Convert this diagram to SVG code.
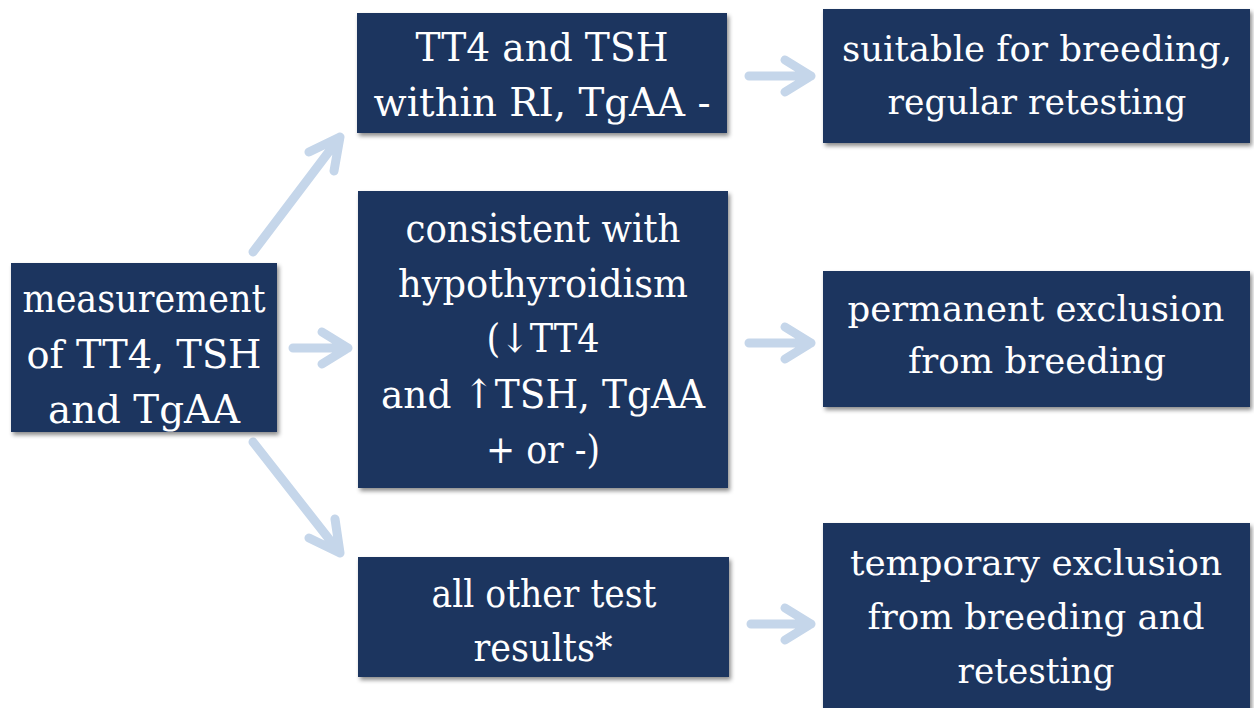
<svg xmlns="http://www.w3.org/2000/svg" width="1254" height="708" viewBox="0 0 1254 708">
  <defs>
    <filter id="shadow" x="-5%" y="-5%" width="112%" height="115%">
      <feDropShadow dx="2" dy="3" stdDeviation="2" flood-color="#000" flood-opacity="0.45"/>
    </filter>
    <style>
      .box { fill: #1b365e; filter: url(#shadow); }
      .label { fill: #ffffff; font-family: "DejaVu Serif", "Liberation Serif", serif; font-size: 40px; text-anchor: middle; }
      .wide { font-size: 36px; }
      .arrow { fill: none; stroke: #c5d6ea; stroke-width: 9; stroke-linecap: round; stroke-linejoin: round; }
    </style>
  </defs>
  <rect width="1254" height="708" fill="#ffffff"/>

  <!-- connectors -->
  <g id="connectors">
    <!-- start to the three outcomes -->
    <path class="arrow" d="M253 252 L340 137 M309 152 L340 137 L334 171"/>
    <path class="arrow" d="M293 348 L348 348 M322 332 L348 348 L322 364"/>
    <path class="arrow" d="M253 442 L340 553 M309 538 L340 553 L335 519"/>
    <!-- outcomes to consequences -->
    <path class="arrow" d="M749 76 L811 76 M785 60 L811 76 L785 92"/>
    <path class="arrow" d="M749 343 L811 343 M785 327 L811 343 L785 359"/>
    <path class="arrow" d="M751 624 L811 624 M785 608 L811 624 L785 640"/>
  </g>

  <g id="measurement">
    <rect class="box" x="11" y="263" width="266" height="169"/>
    <text class="label" x="144" y="312" textLength="243" lengthAdjust="spacingAndGlyphs">measurement</text>
    <text class="label" x="144" y="368" textLength="235" lengthAdjust="spacingAndGlyphs">of TT4, TSH</text>
    <text class="label" x="144" y="423" textLength="192" lengthAdjust="spacingAndGlyphs">and TgAA</text>
  </g>

  <g id="within-ri">
    <rect class="box" x="357" y="13" width="370" height="120"/>
    <text class="label" x="542" y="61" textLength="253" lengthAdjust="spacingAndGlyphs">TT4 and TSH</text>
    <text class="label" x="542" y="116" textLength="337" lengthAdjust="spacingAndGlyphs">within RI, TgAA -</text>
  </g>

  <g id="hypothyroidism">
    <rect class="box" x="358" y="191" width="370" height="297"/>
    <text class="label" x="543" y="242" textLength="275" lengthAdjust="spacingAndGlyphs">consistent with</text>
    <text class="label" x="543" y="297" textLength="290" lengthAdjust="spacingAndGlyphs">hypothyroidism</text>
    <text class="label" x="543" y="352" textLength="113" lengthAdjust="spacingAndGlyphs">(↓TT4</text>
    <text class="label" x="543" y="408" textLength="324" lengthAdjust="spacingAndGlyphs">and ↑TSH, TgAA</text>
    <text class="label" x="543" y="463" textLength="114" lengthAdjust="spacingAndGlyphs">+ or -)</text>
  </g>

  <g id="other-results">
    <rect class="box" x="358" y="557" width="371" height="120"/>
    <text class="label" x="544" y="607" textLength="225" lengthAdjust="spacingAndGlyphs">all other test</text>
    <text class="label" x="543" y="661" textLength="139" lengthAdjust="spacingAndGlyphs">results*</text>
  </g>

  <g id="suitable">
    <rect class="box" x="823" y="9" width="427" height="134"/>
    <text class="label wide" x="1037" y="61" textLength="390" lengthAdjust="spacingAndGlyphs">suitable for breeding,</text>
    <text class="label wide" x="1037" y="114" textLength="299" lengthAdjust="spacingAndGlyphs">regular retesting</text>
  </g>

  <g id="permanent">
    <rect class="box" x="823" y="271" width="427" height="136"/>
    <text class="label wide" x="1036" y="321" textLength="377" lengthAdjust="spacingAndGlyphs">permanent exclusion</text>
    <text class="label wide" x="1037" y="373" textLength="258" lengthAdjust="spacingAndGlyphs">from breeding</text>
  </g>

  <g id="temporary">
    <rect class="box" x="823" y="523" width="427" height="190"/>
    <text class="label wide" x="1036" y="575" textLength="372" lengthAdjust="spacingAndGlyphs">temporary exclusion</text>
    <text class="label wide" x="1036" y="629" textLength="337" lengthAdjust="spacingAndGlyphs">from breeding and</text>
    <text class="label wide" x="1036" y="683" textLength="157" lengthAdjust="spacingAndGlyphs">retesting</text>
  </g>
</svg>
